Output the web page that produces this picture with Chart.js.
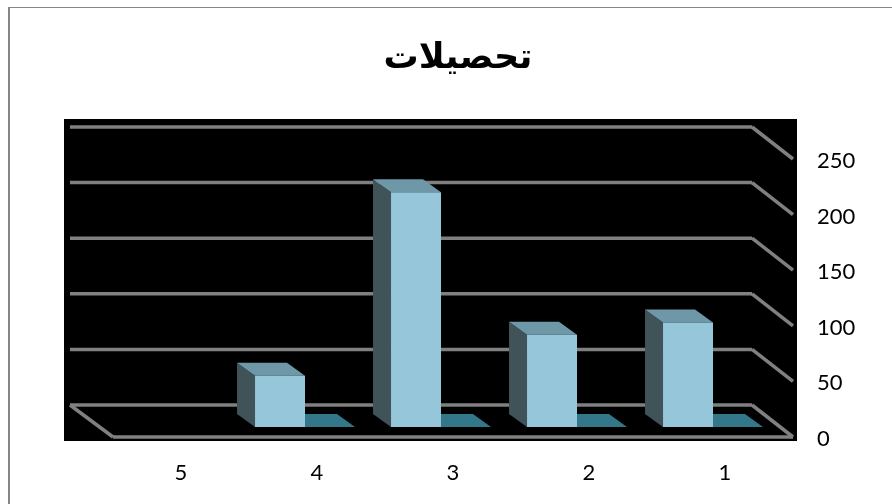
<!DOCTYPE html>
<html>
<head>
<meta charset="utf-8">
<style>
  html, body { margin: 0; padding: 0; background: #fff; }
  canvas { display: block; }
</style>
<script src="https://cdn.jsdelivr.net/npm/chart.js@4"></script>
</head>
<body>
<canvas id="chart" width="892" height="504"></canvas>
<script>
const chartTitle = 'تحصيلات';
const categories = ['1', '2', '3', '4', '5'];
const seriesA = [94, 83, 211, 46, null];
const seriesB = [0, 0, 0, 0, null];
const yTicks = [0, 50, 100, 150, 200, 250];

// fake 3d depth of the walls and of the bars
const WALL_DX = 41, WALL_LEFT_DX = 43, WALL_DY = 32;
const BAR_DX = 12, BAR_DY = 10;
const FACE_DX = 18, FACE_DY = 13;

function line(ctx, x0, y0, x1, y1) {
  ctx.beginPath();
  ctx.moveTo(x0, y0);
  ctx.lineTo(x1, y1);
  ctx.stroke();
}

function poly(ctx, color, pts) {
  ctx.fillStyle = color;
  ctx.beginPath();
  pts.forEach((p, i) => i ? ctx.lineTo(p[0], p[1]) : ctx.moveTo(p[0], p[1]));
  ctx.closePath();
  ctx.fill();
}

const fake3d = {
  id: 'fake3d',
  afterLayout(chart) {
    // title sits a bit right of the plot centre
    chart.titleBlock.left += 5;
    chart.titleBlock.right += 5;
  },
  beforeDraw(chart) {
    const ctx = chart.ctx, area = chart.chartArea, y = chart.scales.y;
    ctx.save();
    ctx.fillStyle = '#fff';
    ctx.fillRect(0, 0, chart.width, chart.height);
    // only the top and left edges of the frame are in the picture
    ctx.fillStyle = '#868686';
    ctx.fillRect(8, 7, 884, 1);
    ctx.fillRect(8, 7, 2, 497);
    ctx.fillStyle = '#000';
    ctx.fillRect(64, 119, 733, 322);
    ctx.strokeStyle = '#808080';
    ctx.lineWidth = 3.5;
    yTicks.forEach(v => {
      const py = y.getPixelForValue(v);
      line(ctx, area.left - WALL_LEFT_DX, py - WALL_DY, area.right - WALL_DX, py - WALL_DY);
      line(ctx, area.right - WALL_DX, py - WALL_DY, area.right, py);
    });
    const base = y.getPixelForValue(0);
    line(ctx, area.left - WALL_LEFT_DX, base - WALL_DY, area.left, base);
    line(ctx, area.left, base, area.right, base);
    ctx.restore();
  },
  beforeDatasetsDraw(chart) {
    const ctx = chart.ctx;
    ctx.save();
    ctx.translate(-BAR_DX, -BAR_DY);
    chart.getDatasetMeta(1).data.forEach((bar, i) => {
      if (seriesB[i] === null) return;
      const p = bar.getProps(['x', 'y', 'width', 'base']);
      const l = p.x - p.width / 2, r = p.x + p.width / 2;
      poly(ctx, '#33788a', [[l, p.base], [r, p.base], [r - FACE_DX, p.base - FACE_DY], [l - FACE_DX, p.base - FACE_DY]]);
    });
    chart.getDatasetMeta(0).data.forEach((bar, i) => {
      if (seriesA[i] === null) return;
      const p = bar.getProps(['x', 'y', 'width', 'base']);
      const l = p.x - p.width / 2, r = p.x + p.width / 2;
      poly(ctx, '#3f5359', [[l, p.y], [l, p.base], [l - FACE_DX, p.base - FACE_DY], [l - FACE_DX, p.y - FACE_DY]]);
      poly(ctx, '#6e97a8', [[l, p.y], [r, p.y], [r - FACE_DX, p.y - FACE_DY], [l - FACE_DX, p.y - FACE_DY]]);
    });
  },
  afterDatasetsDraw(chart) {
    chart.ctx.restore();
  }
};

new Chart(document.getElementById('chart').getContext('2d'), {
  type: 'bar',
  data: {
    labels: categories,
    datasets: [
      { data: seriesA, backgroundColor: '#95c6d9', clip: false },
      { data: seriesB, backgroundColor: '#33788a', clip: false }
    ]
  },
  options: {
    responsive: false,
    animation: false,
    devicePixelRatio: 1,
    categoryPercentage: 0.735,
    barPercentage: 1,
    layout: { padding: { left: 113, right: 0, top: 38, bottom: 0 } },
    plugins: {
      legend: { display: false },
      tooltip: { enabled: false },
      title: {
        display: true,
        text: chartTitle,
        fullSize: false,
        color: '#000',
        font: { family: '"DejaVu Sans"', size: 35, weight: 'bold' },
        padding: { top: 0, bottom: 79 }
      }
    },
    scales: {
      x: {
        reverse: true,
        grid: { display: false, drawTicks: false },
        border: { display: false },
        afterFit(s) { s.height = 67; },
        ticks: { color: '#000', padding: 23, font: { family: 'Lato', size: 22 } }
      },
      y: {
        position: 'right',
        min: 0,
        max: 250,
        grid: { display: false, drawTicks: false },
        border: { display: false },
        afterFit(s) { s.width = 99; },
        ticks: { stepSize: 50, color: '#000', padding: 24, labelOffset: 2, font: { family: 'Lato', size: 22 } }
      }
    }
  },
  plugins: [fake3d]
});
</script>
</body>
</html>
